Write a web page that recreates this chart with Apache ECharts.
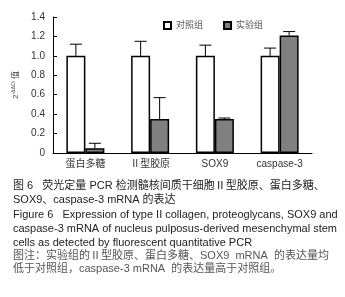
<!DOCTYPE html>
<html lang="zh">
<head>
<meta charset="UTF-8">
<title>Figure 6</title>
<script src="https://cdn.jsdelivr.net/npm/echarts@6/dist/echarts.min.js"></script>
<style>
  html, body { margin: 0; padding: 0; background: #fff; }
  #chart { width: 345px; height: 297px; }
</style>
</head>
<body>
<div id="chart"></div>
<script>
// 数据
const categories = ['蛋白多糖', 'Ⅱ型胶原', 'SOX9', 'caspase-3'];
const controlMean = [1.0, 1.0, 1.0, 1.0];
const controlErr = [0.12, 0.15, 0.11, 0.08];
const expMean = [0.05, 0.35, 0.35, 1.21];
const expErr = [0.05, 0.22, 0.01, 0.04];
const yTicks = [0, 0.2, 0.4, 0.6, 0.8, 1.0, 1.2, 1.4];
const captionLines = [
  '图 6   荧光定量 PCR 检测髓核间质干细胞Ⅱ型胶原、蛋白多糖、',
  'SOX9、caspase-3 mRNA 的表达',
  'Figure 6   Expression of type II collagen, proteoglycans, SOX9 and',
  'caspase-3 mRNA of nucleus pulposus-derived mesenchymal stem',
  'cells as detected by fluorescent quantitative PCR',
  '图注：实验组的Ⅱ型胶原、蛋白多糖、SOX9  mRNA  的表达量均',
  '低于对照组，caspase-3 mRNA  的表达量高于对照组。'
];

const BAR_W = 19;
const FONT = '"Liberation Sans", "Noto Sans CJK SC", sans-serif';

function errorSeries(means, errs, offset) {
  return {
    type: 'custom',
    silent: true,
    z: 1,
    data: means.map((m, i) => [i, m, m + errs[i]]),
    renderItem(params, api) {
      const low = api.coord([api.value(0), api.value(1)]);
      const high = api.coord([api.value(0), api.value(2)]);
      const x = low[0] + offset;
      const st = { stroke: '#000', lineWidth: 1 };
      return {
        type: 'group',
        children: [
          { type: 'line', shape: { x1: x, y1: low[1], x2: x, y2: high[1] }, style: st },
          { type: 'line', shape: { x1: x - 6, y1: high[1], x2: x + 6, y2: high[1] }, style: st }
        ]
      };
    }
  };
}

const captionGraphics = captionLines.map((t, i) => ({
  type: 'text',
  left: 13,
  top: [180, 194, 209, 223, 237, 250, 263][i],
  style: {
    text: t,
    font: '11px ' + FONT,
    fill: i >= 5 ? '#555' : '#222'
  }
}));

const chart = echarts.init(document.getElementById('chart'));
chart.setOption({
  animation: false,
  textStyle: { fontFamily: FONT },
  grid: { left: 53, right: 33, top: 17, bottom: 144 },
  legend: {
    left: 158, top: 16,
    itemWidth: 7, itemHeight: 7, itemGap: 20,
    icon: 'rect',
    textStyle: { fontSize: 9, color: '#555' },
    data: ['对照组', '实验组']
  },
  xAxis: {
    type: 'category',
    data: categories,
    axisLine: { lineStyle: { color: '#000', width: 1 } },
    axisTick: { inside: true, length: 4, lineStyle: { color: '#000' } },
    axisLabel: { color: '#333', fontSize: 10, margin: 6 }
  },
  yAxis: {
    type: 'value',
    min: 0, max: 1.4, interval: 0.2,
    name: '{b|2}{s|-ΔΔCt}{b| 值}',
    nameLocation: 'middle',
    nameRotate: 90,
    nameGap: 31,
    nameTextStyle: {
      rich: {
        b: { fontSize: 8, color: '#444' },
        s: { fontSize: 5, color: '#444', verticalAlign: 'bottom', padding: [0, 0, 6, 0] }
      }
    },
    splitLine: { show: false },
    axisLine: { show: true, lineStyle: { color: '#000', width: 1 } },
    axisTick: { show: true, inside: true, length: 4, lineStyle: { color: '#000' } },
    axisLabel: {
      color: '#333', fontSize: 10, margin: 8,
      formatter: v => (v === 0 ? '0' : yTicks.find(t => Math.abs(t - v) < 1e-6).toFixed(1))
    }
  },
  series: [
    {
      name: '对照组', type: 'bar', data: controlMean,
      barWidth: BAR_W, barGap: '0%', z: 2,
      itemStyle: { color: '#fff', borderColor: '#000', borderWidth: 1.5 }
    },
    {
      name: '实验组', type: 'bar', data: expMean,
      barWidth: BAR_W, barGap: '0%', z: 2,
      itemStyle: { color: '#808080', borderColor: '#000', borderWidth: 1.5 }
    },
    errorSeries(controlMean, controlErr, -BAR_W / 2),
    errorSeries(expMean, expErr, BAR_W / 2)
  ],
  graphic: captionGraphics
});
</script>
</body>
</html>
